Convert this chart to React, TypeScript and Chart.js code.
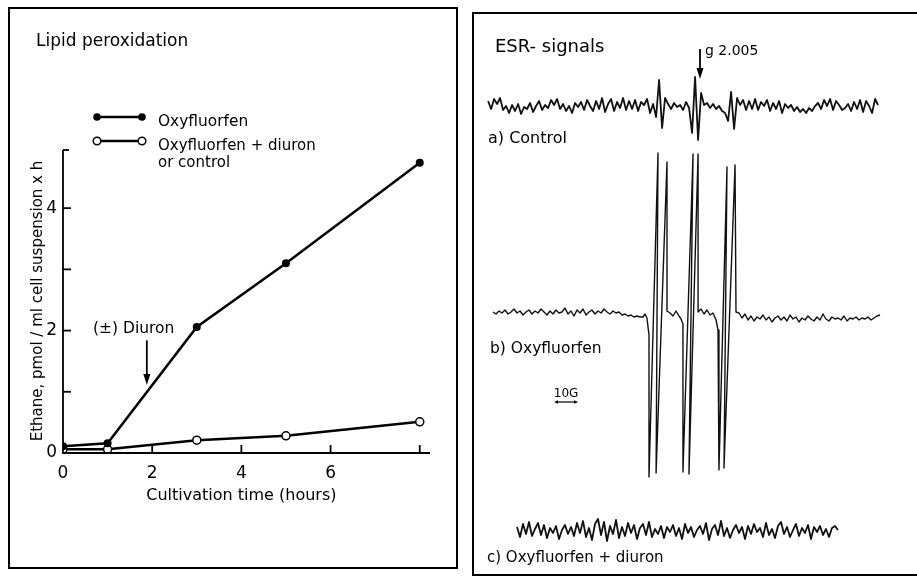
import React, { useEffect, useRef } from "react";
import { Chart, registerables } from "chart.js";

Chart.register(...registerables);

const FONT = '"DejaVu Sans", sans-serif';

// ---------------- Left panel: lipid peroxidation ----------------
const cultivationHours = [0, 1, 3, 5, 8];
const ethaneOxyfluorfen = [0.11, 0.16, 2.06, 3.1, 4.74];
const ethaneOxyDiuronOrControl = [0.06, 0.06, 0.21, 0.28, 0.51];
const yTickValues = [1, 2, 3, 4];
const xTickValues = [2, 4, 6, 8];
const seriesLabels = ["Oxyfluorfen", "Oxyfluorfen + diuron", "or control"];
const diuronArrow = { hour: 1.88, fromValue: 1.84, toValue: 1.11 };

// ---------------- Right panel: ESR signals ----------------
// field in gauss, 0 at g = 2.005; signal in recorder units (up = positive)
const SWEEP_STEP_G = 1.25;
const controlStartG = -88.3;
const controlSignal = [
  6, -2, 8, 3, 9, -3, 1, -6, 2, -4,
  3, -7, 0, -2, 4, -5, 1, 6, -3, 2,
  -1, 7, 2, 8, -2, 3, -4, 1, -6, 4,
  0, 5, -3, 7, 1, -4, 6, -2, 9, -5,
  3, 8, -4, 5, -1, 9, -3, 6, -2, 7,
  -4, 5, 2, 8, -6, 3, -10, 27, -21, 9,
  3, -2, 4, 0, 2, -3, 5, -1, -26, 30,
  -33, 14, 2, 4, -1, 3, -2, 1, -4, -6,
  -14, 15, -22, 9, 2, 7, -3, 6, -2, 8,
  -3, 5, 1, 7, -4, 4, -2, 6, -6, 3,
  -1, 2, -4, 0, -5, -2, -6, -1, -4, 1,
  4, -2, 7, 1, 8, -3, 6, 2, -3, -1,
  3, -4, 5, -2, 7, -5, 6, 1, -6, 8, 2,
];
const oxyLeftStartG = -86.25;
const oxyLeftSignal = [
  3, 1, 4, 2, 5, 1, 3, 6, 2, 4,
  0, 3, 5, 1, 4, 2, 6, 3, 0, 4,
  1, 5, 2, 3, 7, 1, 4, -1, 5, 2,
  6, 0, 3, 5, 1, 4, 2, 6, 3, 1,
  4, 2, 3, 0, 1, -1, 0, -2, -1, -2,
  -2,
];
const oxyLinesG = [
  -22.9, -22.1, -21.25, -21.25, -17.5, -18.3, -13.75, -13.75, -12.5, -11.25,
  -10, -8.75, -7.9, -7.1, -7.1, -2.9, -4.6, -0.8, -0.8, 0.4,
  1.7, 2.9, 4.2, 5.4, 6.7, 7.5, 7.9, 11.25, 10, 14.6, 15,
];
const oxyLinesSignal = [
  1, -3, -20, -162, 162, -158, 153, 4, 2, -1,
  4, -1, -4, -9, -157, 161, -159, 161, 3, 6,
  1, 5, 0, 2, -5, -15, -155, 148, -153, 150, 3,
];
const oxyRightStartG = 16.25;
const oxyRightSignal = [
  2, -3, 1, -5, -1, -6, -2, -4, 0, -5,
  -2, -7, -3, -1, -5, -2, -6, 0, -4, -2,
  -7, -3, -5, -1, -4, -6, -2, -5, 1, -4,
  -6, -2, -4, -3, -5, -1, -6, -3, -4, -2,
  -5, -3, -4, -2, -5, -3, -1, 0,
];
const diuronStartG = -76.25;
const diuronSignal = [
  4, -6, 7, -3, 9, -5, 2, 8, -4, 6,
  -7, 3, -2, 5, -8, 1, 6, -3, 4, -5,
  8, -2, 10, -6, 3, -9, 7, 12, -4, 9,
  -10, 5, -3, 11, -7, 4, -5, 8, -2, 6,
  -8, 3, 7, -4, 9, -6, 2, -3, 5, -7,
  4, -1, 6, -5, 3, -8, 7, -2, 4, -6,
  1, 5, -3, 8, -9, 2, 6, -4, 10, -5,
  3, -7, 1, 6, -2, 4, -8, 5, -3, 7,
  -1, 3, -6, 8, -4, 2, -7, 5, 9, -3,
  4, -6, 1, 7, -5, 3, -2, 6, -8, 4,
  -1, 5, -4, 2, -6, 3, 5, 1,
];
const scaleBarG = 10;
const esrLabels = ["a) Control", "b) Oxyfluorfen", "c) Oxyfluorfen + diuron"];

// layout constants (page pixels)
const W = 917;
const H = 579;
const TRACE_BASE = { a: 107, b: 315, c: 531 };

function text(ctx: CanvasRenderingContext2D, s: string, x: number, y: number, size: number, align: CanvasTextAlign = "left", weight = "normal") {
  ctx.font = `${weight} ${size}px ${FONT}`;
  ctx.textAlign = align;
  ctx.textBaseline = "alphabetic";
  ctx.fillText(s, x, y);
}

function seg(ctx: CanvasRenderingContext2D, x1: number, y1: number, x2: number, y2: number) {
  ctx.beginPath();
  ctx.moveTo(x1, y1);
  ctx.lineTo(x2, y2);
  ctx.stroke();
}

function head(ctx: CanvasRenderingContext2D, x: number, y: number, dx: number, dy: number, len: number, half: number) {
  const px = -dy, py = dx;
  ctx.beginPath();
  ctx.moveTo(x, y);
  ctx.lineTo(x - dx * len + px * half, y - dy * len + py * half);
  ctx.lineTo(x - dx * len - px * half, y - dy * len - py * half);
  ctx.closePath();
  ctx.fill();
}

const lipidDecor = {
  id: "lipidDecor",
  afterDraw(chart: any) {
    const { ctx, chartArea: ca, scales } = chart;
    const x = scales.x, y = scales.y;
    ctx.save();
    ctx.strokeStyle = "#000";
    ctx.fillStyle = "#000";
    ctx.lineWidth = 2;
    ctx.strokeRect(9, 8, 448, 560);
    ctx.lineWidth = 1.8;
    ctx.beginPath();
    ctx.moveTo(ca.left, ca.top);
    ctx.lineTo(ca.left, ca.bottom);
    ctx.lineTo(ca.right, ca.bottom);
    ctx.stroke();
    for (const v of yTickValues) {
      const py = y.getPixelForValue(v);
      seg(ctx, ca.left, py, ca.left + 8, py);
    }
    seg(ctx, ca.left, ca.top, ca.left + 6, ca.top);
    for (const v of xTickValues) {
      const px = x.getPixelForValue(v);
      seg(ctx, px, ca.bottom, px, ca.bottom - 8);
    }
    text(ctx, "Lipid peroxidation", 36, 46, 17);
    ctx.lineWidth = 2.5;
    seg(ctx, 97, 117, 142, 117);
    for (const lx of [97, 142]) {
      ctx.beginPath();
      ctx.arc(lx, 117, 3.8, 0, Math.PI * 2);
      ctx.fill();
    }
    seg(ctx, 97, 141, 142, 141);
    ctx.lineWidth = 1.5;
    for (const lx of [97, 142]) {
      ctx.beginPath();
      ctx.arc(lx, 141, 3.8, 0, Math.PI * 2);
      ctx.fillStyle = "#fff";
      ctx.fill();
      ctx.stroke();
    }
    ctx.fillStyle = "#000";
    text(ctx, seriesLabels[0], 158, 126, 15.4);
    text(ctx, seriesLabels[1], 158, 150, 15);
    text(ctx, seriesLabels[2], 158, 167, 15);
    text(ctx, "(\u00b1) Diuron", 93, 333, 15.5);
    const ax = x.getPixelForValue(diuronArrow.hour);
    const ay1 = y.getPixelForValue(diuronArrow.fromValue);
    const ay2 = y.getPixelForValue(diuronArrow.toValue);
    ctx.lineWidth = 1.8;
    seg(ctx, ax, ay1, ax, ay2 - 6);
    head(ctx, ax, ay2, 0, 1, 11, 3.5);
    text(ctx, "Cultivation time (hours)", (x.getPixelForValue(0) + x.getPixelForValue(8)) / 2, 500, 16, "center");
    ctx.save();
    ctx.translate(42, 301);
    ctx.rotate(-Math.PI / 2);
    text(ctx, "Ethane, pmol / ml cell suspension x h", 0, 0, 15, "center");
    ctx.restore();
    ctx.restore();
  },
};

const esrDecor = {
  id: "esrDecor",
  afterDraw(chart: any) {
    const { ctx, scales } = chart;
    const x = scales.x;
    ctx.save();
    ctx.strokeStyle = "#000";
    ctx.fillStyle = "#000";
    ctx.lineWidth = 2;
    ctx.strokeRect(473, 13, 460, 562);
    text(ctx, "ESR- signals", 495, 52, 18);
    const gx = x.getPixelForValue(0);
    ctx.lineWidth = 1.8;
    seg(ctx, gx, 49, gx, 70);
    head(ctx, gx, 79, 0, 1, 11, 3.5);
    text(ctx, "g 2.005", gx + 5, 55, 14);
    text(ctx, esrLabels[0], 488, 143, 16);
    text(ctx, esrLabels[1], 490, 353, 15.5);
    text(ctx, esrLabels[2], 487, 562, 15);
    const s1 = x.getPixelForValue(-60.8);
    const s2 = x.getPixelForValue(-60.8 + scaleBarG);
    text(ctx, "10G", (s1 + s2) / 2, 397, 12, "center");
    ctx.lineWidth = 1.2;
    seg(ctx, s1 + 2, 402, s2 - 2, 402);
    head(ctx, s1, 402, -1, 0, 4, 1.8);
    head(ctx, s2, 402, 1, 0, 4, 1.8);
    ctx.restore();
  },
};

function sweep(startG: number, signal: number[], base: number) {
  return signal.map((s, i) => ({ x: startG + i * SWEEP_STEP_G, y: base - s }));
}

export default function App() {
  const leftRef = useRef<HTMLCanvasElement>(null);
  const rightRef = useRef<HTMLCanvasElement>(null);

  useEffect(() => {
    const tickFont = { family: FONT, size: 17 };
    const evenLabel = (v: any) => {
      const n = Number(v);
      return Number.isInteger(n) && n % 2 === 0 ? String(n) : "";
    };
    const left = new Chart(leftRef.current!, {
      type: "scatter",
      data: {
        datasets: [
          {
            label: seriesLabels[0],
            data: cultivationHours.map((h, i) => ({ x: h, y: ethaneOxyfluorfen[i] })),
            showLine: true,
            borderColor: "#000",
            borderWidth: 2.5,
            pointRadius: 4,
            pointBackgroundColor: "#000",
            pointBorderColor: "#000",
            pointBorderWidth: 0,
          },
          {
            label: seriesLabels[1] + " " + seriesLabels[2],
            data: cultivationHours.map((h, i) => ({ x: h, y: ethaneOxyDiuronOrControl[i] })),
            showLine: true,
            borderColor: "#000",
            borderWidth: 2.5,
            pointRadius: 4,
            pointBackgroundColor: "#fff",
            pointBorderColor: "#000",
            pointBorderWidth: 1.5,
          },
        ],
      },
      options: {
        responsive: false,
        animation: false,
        events: [],
        layout: { padding: { left: 0, top: 150, right: W - 430, bottom: 0 } },
        plugins: { legend: { display: false }, tooltip: { enabled: false } },
        scales: {
          x: {
            type: "linear",
            min: 0,
            max: 8.23,
            grid: { display: false, drawTicks: false },
            border: { display: false },
            ticks: { stepSize: 2, color: "#000", font: tickFont, padding: 10, callback: evenLabel, maxRotation: 0 },
            afterFit: (s: any) => { s.height = H - 453; },
          },
          y: {
            type: "linear",
            min: 0,
            max: 4.95,
            grid: { display: false, drawTicks: false },
            border: { display: false },
            ticks: { stepSize: 1, color: "#000", font: tickFont, padding: 6, callback: evenLabel },
            afterFit: (s: any) => { s.width = 63; },
          },
        },
      } as any,
      plugins: [lipidDecor],
    });

    const traceStyle = {
      showLine: true,
      borderColor: "#111",
      borderWidth: 1.8,
      pointRadius: 0,
      borderJoinStyle: "round" as const,
      tension: 0,
    };
    const right = new Chart(rightRef.current!, {
      type: "scatter",
      data: {
        datasets: [
          { label: esrLabels[0], data: sweep(controlStartG, controlSignal, TRACE_BASE.a), ...traceStyle },
          {
            label: esrLabels[1],
            data: [
              ...sweep(oxyLeftStartG, oxyLeftSignal, TRACE_BASE.b),
              ...oxyLinesG.map((g, i) => ({ x: g, y: TRACE_BASE.b - oxyLinesSignal[i] })),
              ...sweep(oxyRightStartG, oxyRightSignal, TRACE_BASE.b),
            ],
            ...traceStyle,
            borderWidth: 1.4,
          },
          { label: esrLabels[2], data: sweep(diuronStartG, diuronSignal, TRACE_BASE.c), ...traceStyle },
        ],
      },
      options: {
        responsive: false,
        animation: false,
        events: [],
        layout: { padding: 0 },
        plugins: { legend: { display: false }, tooltip: { enabled: false } },
        scales: {
          x: { type: "linear", display: false, min: -700 / 2.4, max: (W - 700) / 2.4 },
          y: { type: "linear", display: false, min: 0, max: H, reverse: true },
        },
      } as any,
      plugins: [esrDecor],
    });

    return () => {
      left.destroy();
      right.destroy();
    };
  }, []);

  return (
    <div style={{ position: "absolute", left: 0, top: 0, width: W, height: H, background: "#fff", overflow: "hidden" }}>
      <canvas ref={leftRef} width={W} height={H} style={{ position: "absolute", left: 0, top: 0 }} />
      <canvas ref={rightRef} width={W} height={H} style={{ position: "absolute", left: 0, top: 0 }} />
    </div>
  );
}
